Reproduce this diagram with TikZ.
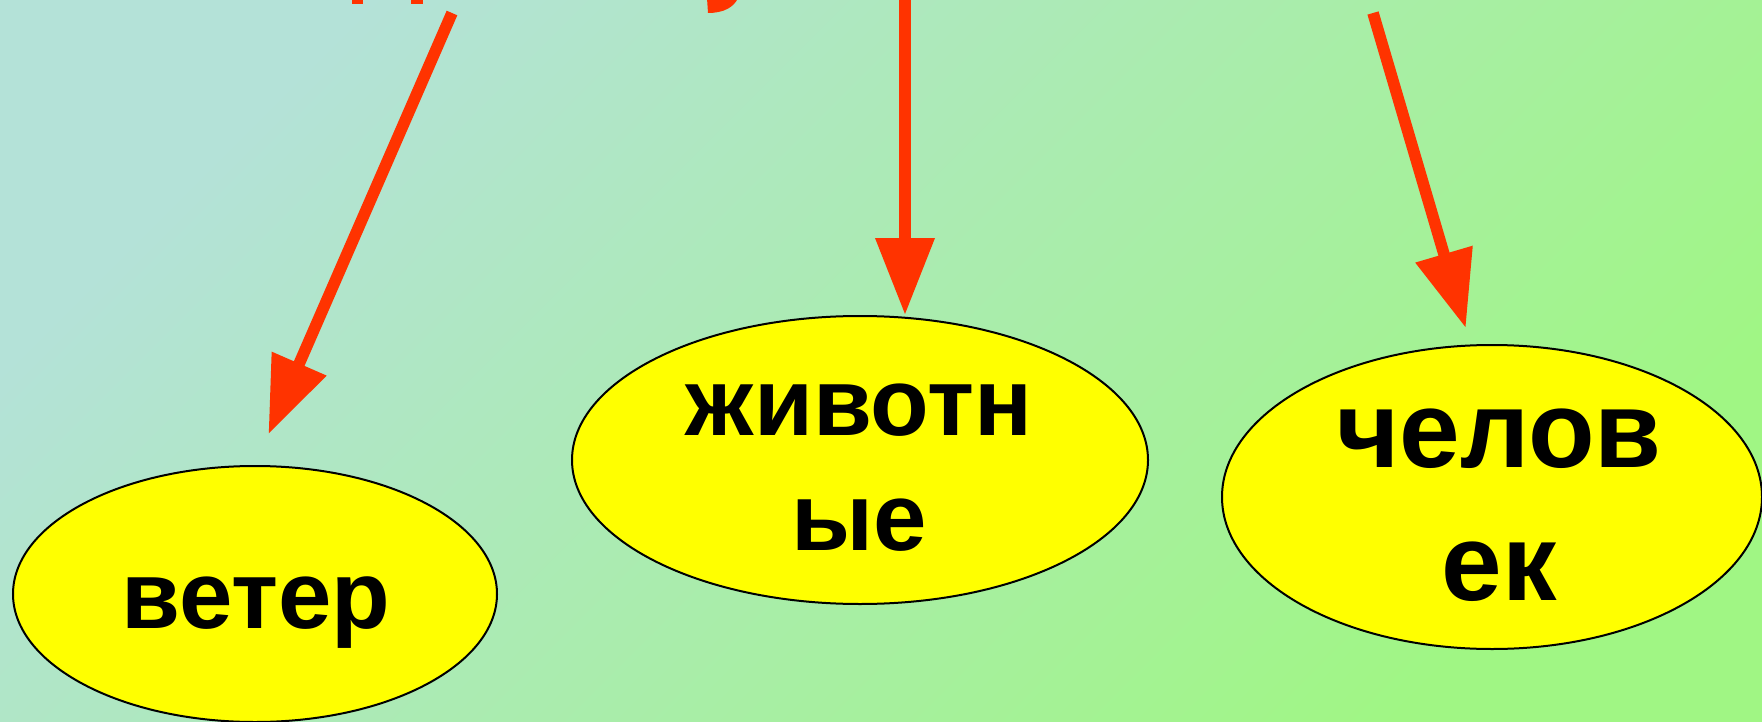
\documentclass[tikz,border=0pt]{standalone}
\usepackage{fontspec}
\setmainfont{Liberation Sans}
\usetikzlibrary{arrows.meta,shapes.geometric,calc}
\definecolor{bgA}{RGB}{180,226,216}
\definecolor{bgB}{RGB}{160,246,132}
\definecolor{arrred}{RGB}{255,51,0}
\definecolor{ellyellow}{RGB}{255,255,0}
\begin{document}
\begin{tikzpicture}[x=0.5pt,y=-0.5pt,
  oval/.style={ellipse, draw=black, line width=1pt, fill=ellyellow, inner sep=0pt},
  lbl/.style={font=\bfseries\fontsize{48}{57.5}\selectfont, align=center, text=black, inner sep=0pt},
  lblbig/.style={font=\bfseries\fontsize{54.5}{66.5}\selectfont, align=center, text=black, inner sep=0pt},
  arr/.style={draw=arrred, line width=5.8pt, -{Triangle[length=38.5pt,width=28.3pt]}},
  frag/.style={fill=arrred}]
\useasboundingbox (0,0) rectangle (1762,722);
\shade[top color=bgA, bottom color=bgB, shading angle=45] (0,0) rectangle (1762,722);
% title fragments cut off at the top edge
\fill[frag] (352,-2) rectangle (363,4);
\fill[frag] (411,-2) rectangle (423,4);
\fill[frag] (707,-2) -- (708,13) .. controls (724,13) and (734,7) .. (738,-2) -- cycle;
% ellipses
\node[oval, minimum width=242pt, minimum height=128pt] (vet) at (255,594) {};
\node[oval, minimum width=288pt, minimum height=144pt] (ziv) at (860,460) {};
\node[oval, minimum width=270pt, minimum height=152pt] (chel) at (1492,497) {};
% labels
\node[lbl] (vett) at (256,613) {ветер};
\node[lbl] (zivt) at (859,468) {животн\\ые};
\node[lblbig] (chelt) at (1499,505) {челов\\ек};
% arrows
\coordinate (s1) at (452,13);
\coordinate (s2) at (905,-5);
\coordinate (s3) at (1373,13);
\draw[arr, shorten >=16.8pt] (s1) -- (vet.north);
\draw[arr] (s2) -- (s2 |- ziv.north);
\draw[arr, shorten >=8.6pt] (s3) -- (chel.98.6);
\end{tikzpicture}
\end{document}
